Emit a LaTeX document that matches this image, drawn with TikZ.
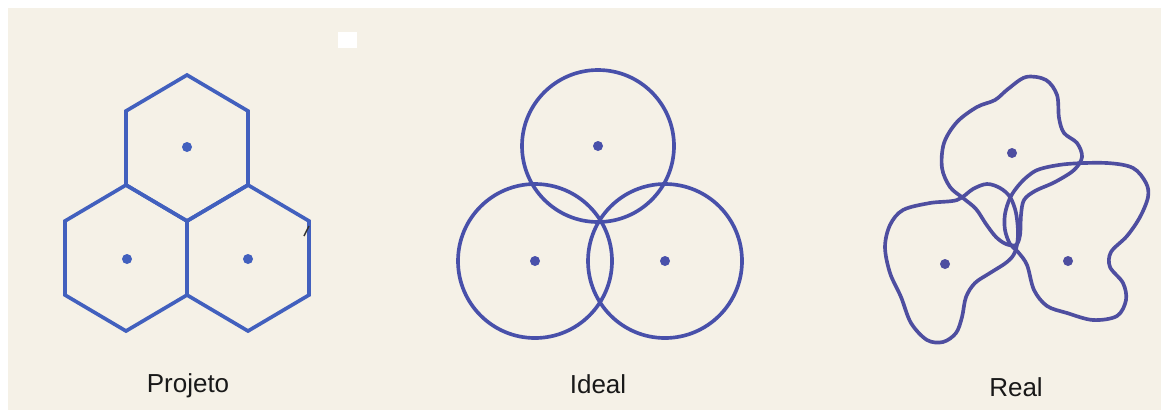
\documentclass[tikz,border=0pt]{standalone}
\usepackage{fontspec}
\usepackage{xcolor}
\usepackage{tikz}
\usetikzlibrary{positioning}

\newfontfamily\labelfont{Liberation Sans}
\definecolor{paper}{RGB}{245,241,231}
\definecolor{hexblue}{RGB}{66,96,190}
\definecolor{ringblue}{RGB}{72,80,170}
\definecolor{blobblue}{RGB}{78,78,160}

\begin{document}
\begin{tikzpicture}[x=0.025cm, y=-0.025cm,
  hexline/.style={draw=hexblue, line width=2.6pt, line join=miter},
  ringline/.style={draw=ringblue, line width=2.6pt},
  blobline/.style={draw=blobblue, line width=2.6pt},
  site/.style={circle, fill=#1, inner sep=0pt, minimum size=0.25cm},
  caption/.style={anchor=base, font=\labelfont\fontsize{18.5}{20}\selectfont, text=black!90}
]

% Paper
\useasboundingbox (0,0) rectangle (1161,410);
\fill[white] (0,0) rectangle (1161,410);
\fill[paper] (8,8) rectangle (1161,410);
\fill[white] (338,32) rectangle (357,48);

% Projeto: hexagonal cells
\coordinate (hA) at (187,148);
\coordinate (hB) at (126,258);
\coordinate (hC) at (248,258);
\foreach \c in {hA,hB,hC}
  \draw[hexline] ([shift={(0,-73)}]\c) -- ++(61,36) -- ++(0,74) -- ++(-61,36)
    -- ++(-61,-36) -- ++(0,-74) -- cycle;
\draw[black!80, line width=1pt] (304,236) -- (309,226);
\node[site=hexblue] (dA) at (187,147) {};
\node[site=hexblue] (dB) at (127,259) {};
\node[site=hexblue] (dC) at (248,259) {};

% Ideal: circular cells
\coordinate (cA) at (598,146);
\coordinate (cB) at (535,261);
\coordinate (cC) at (665,261);
\draw[ringline] (cA) circle[radius=76];
\draw[ringline] (cB) circle[radius=77];
\draw[ringline] (cC) circle[radius=77];
\node[site=ringblue] (eA) at (cA) {};
\node[site=ringblue] (eB) at (cB) {};
\node[site=ringblue] (eC) at (cC) {};

% Real: irregular cells
\draw[blobline] plot[smooth cycle, tension=0.55] coordinates {
  (1026,77) (1046,80) (1057,95) (1059,118) (1064,133) (1077,143) (1082,157)
  (1074,170) (1055,182) (1035,191) (1024,200) (1021,215) (1020,235) (1016,245)
  (1006,244) (996,237) (986,224) (976,209) (963,198) (950,187) (942,168)
  (944,143) (957,122) (977,107) (995,100) (1008,89)};
\draw[blobline] plot[smooth cycle, tension=0.55] coordinates {
  (903,210) (930,203) (957,200) (973,189) (987,184) (1000,188) (1010,197)
  (1016,213) (1018,235) (1015,252) (1007,262) (990,273) (975,283) (966,297)
  (962,317) (956,333) (943,342) (927,340) (911,323) (901,297) (890,273)
  (885,247) (890,225)};
\draw[blobline] plot[smooth cycle, tension=0.55] coordinates {
  (1040,169) (1067,164) (1107,163) (1133,168) (1146,183) (1148,197)
  (1140,217) (1127,236) (1111,252) (1110,267) (1123,283) (1126,300)
  (1117,316) (1093,320) (1067,313) (1047,306) (1034,290) (1027,265)
  (1018,252) (1010,244) (1005,230) (1005,214) (1010,198) (1018,186) (1028,176)};
\node[site=blobblue] (fA) at (1012,153) {};
\node[site=blobblue] (fB) at (945,264) {};
\node[site=blobblue] (fC) at (1068,261) {};

% Captions
\node[caption] (lProj) at (188,392) {Projeto};
\node[caption] (lIdeal) at (598,393) {Ideal};
\node[caption] (lReal) at (1016,396) {Real};

\end{tikzpicture}
\end{document}
